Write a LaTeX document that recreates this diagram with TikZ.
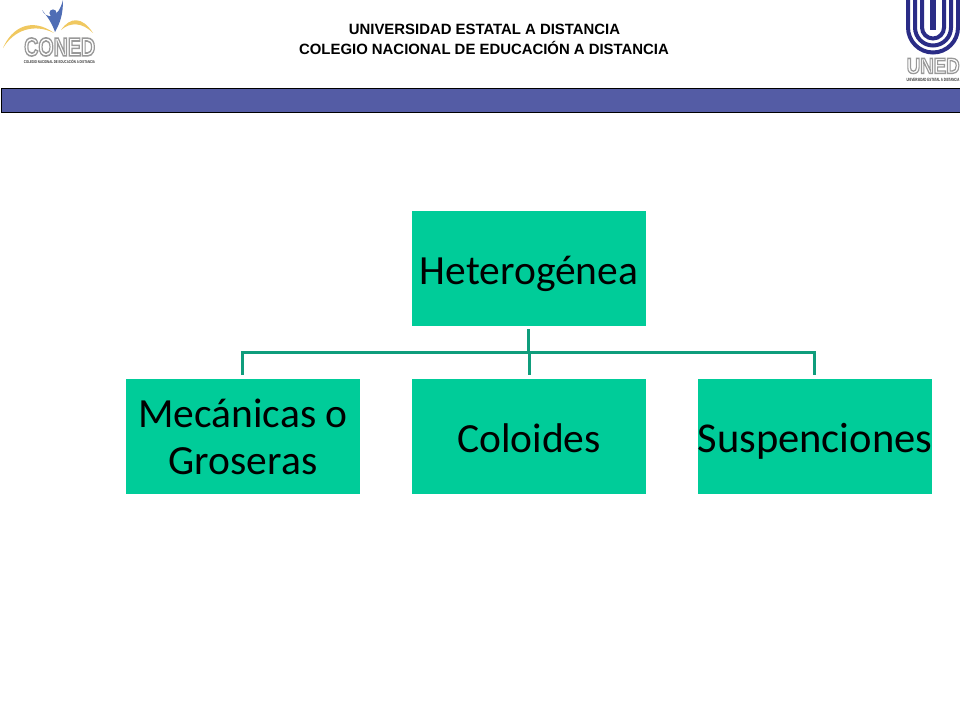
\documentclass[tikz,border=0pt]{standalone}
\usepackage{fontspec}
\usepackage{graphicx}
\setmainfont{Liberation Sans}
\newfontfamily\boxfont{Carlito}
\usetikzlibrary{calc}
\definecolor{boxgreen}{HTML}{00CC99}
\definecolor{linegreen}{HTML}{0F9D7C}
\definecolor{bandblue}{HTML}{545CA5}
\definecolor{unedblue}{HTML}{2A2C86}
\definecolor{conedblue}{HTML}{4F6DB5}
\definecolor{conedgold}{HTML}{F0C860}
\newcommand{\outlined}[1]{\special{pdf:code q 2 Tr 1.5 w 0.6 0.6 0.6 RG 1 1 1 rg}#1\special{pdf:code Q}}
\tikzset{
  x=1pt,y=-1pt,
  boxnode/.style={fill=boxgreen,minimum width=234pt,minimum height=115pt,inner sep=0pt,align=center,
    font=\boxfont\fontsize{41.5}{47}\selectfont,text=black},
  oneline/.style={text height=31pt,text depth=0pt},
  conn/.style={draw=linegreen,line width=3pt,shorten >=3.5pt,shorten <=3pt},
  title/.style={font=\bfseries\fontsize{14.9}{18}\selectfont,inner sep=0pt,align=center,text=black},
  tiny/.style={inner sep=0pt,text=black!80,font=\bfseries\fontsize{5}{5}\selectfont},
  ustripe/.style={draw=unedblue,line width=4pt},
  logotext/.style={inner sep=0pt,font=\bfseries\fontsize{25}{25}\selectfont},
}
\begin{document}
\begin{tikzpicture}
\useasboundingbox (0,0) rectangle (960,720);
\fill[white] (0,0) rectangle (960,720);
% band
\node[draw=black,fill=bandblue,line width=0.9pt,minimum width=962pt,minimum height=24pt,inner sep=0pt,anchor=west] (band) at (0.6,100) {};
% titles
\node[title] (t1) at (484.5,29.5) {UNIVERSIDAD ESTATAL A DISTANCIA};
\node[title] (t2) at (484,47.5) {COLEGIO NACIONAL DE EDUCACIÓN A DISTANCIA};
% boxes
\node[boxnode,oneline] (h) at (529,268.5) {Heterogénea};
\node[boxnode] (m) at (243,436.5) {Mecánicas o\\Groseras};
\node[boxnode,oneline] (c) at (529,436.5) {Coloides};
\node[boxnode,oneline] (s) at (815,436.5) {\makebox[234pt]{\fontsize{42.5}{47}\selectfont Suspenciones}};
% connectors
\coordinate (bus) at ($(h.south)+(-0.5,26)$);
\draw[conn] ($(h.south)+(-0.5,0)$) -- (bus) -| ($(m.north)+(-0.5,0)$);
\draw[conn] ($(h.south)+(-0.5,0)$) -- (bus) -| (c.north);
\draw[conn] ($(h.south)+(-0.5,0)$) -- (bus) -| ($(s.north)+(-0.5,0)$);
% CONED logo
\fill[conedgold] (3,48) .. controls (12,27) and (32,17) .. (54,33) .. controls (34,23) and (14,30) .. (3,48) -- cycle;
\fill[conedgold] (61,30) .. controls (70,17) and (82,16) .. (93,33) .. controls (82,22) and (70,22) .. (61,30) -- cycle;
\fill[conedblue] (42,10) .. controls (46,19) and (58,20) .. (63,0) .. controls (63,15) and (60,23) .. (55,32) .. controls (52,23) and (47,16) .. (42,10) -- cycle;
\fill[conedblue] (53,13) circle (3.6);
\node[inner sep=0pt,anchor=west,logotext] (coned) at (24,47) {\resizebox{71pt}{18pt}{\outlined{CONED}}};
\node[tiny] (conedsub) at (59.5,61.5) {\resizebox{71pt}{3.6pt}{COLEGIO NACIONAL DE EDUCACIÓN A DISTANCIA}};
% UNED logo
\foreach \r in {25,18,11}{
  \draw[ustripe] (933-\r,0) -- (933-\r,27.5) arc[start angle=180,end angle=360,x radius=\r,y radius=-\r] -- (933+\r,0);
}
\fill[unedblue] (930,0) rectangle (936,30);
\node[logotext,anchor=west] (uned) at (906.5,66) {\resizebox{53pt}{15pt}{\outlined{UNED}}};
\node[tiny] (unedsub) at (933,79.5) {\resizebox{53pt}{3.2pt}{UNIVERSIDAD ESTATAL A DISTANCIA}};
\end{tikzpicture}
\end{document}
